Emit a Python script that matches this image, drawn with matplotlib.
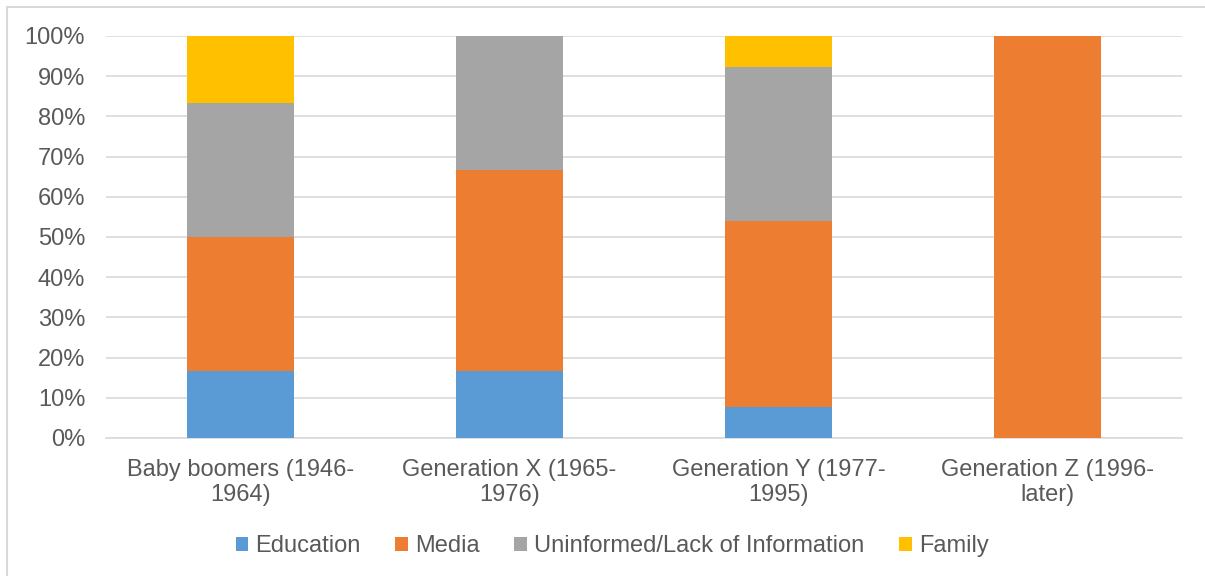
import matplotlib
matplotlib.use("Agg")
import matplotlib.pyplot as plt
from matplotlib.patches import Rectangle
from matplotlib.ticker import PercentFormatter

plt.rcParams['font.family'] = ['Liberation Sans', 'DejaVu Sans']

categories = ["Baby boomers (1946-\n1964)", "Generation X (1965-\n1976)",
              "Generation Y (1977-\n1995)", "Generation Z (1996-\nlater)"]
series_names = ["Education", "Media", "Uninformed/Lack of Information", "Family"]
education = [16.7, 16.7, 7.7, 0.0]
media = [33.3, 50.0, 46.2, 100.0]
uninformed = [33.3, 33.3, 38.5, 0.0]
family = [16.7, 0.0, 7.6, 0.0]
colors = ["#5B9BD5", "#ED7D31", "#A5A5A5", "#FFC000"]

fig = plt.figure(figsize=(12.05, 5.76), dpi=100)
ax = fig.add_axes([106/1205, 1-438/576, (1182-106)/1205, (438-36)/576])

x = range(len(categories))
bottom = [0.0]*len(categories)
for name, vals, c in zip(series_names, [education, media, uninformed, family], colors):
    ax.bar(x, vals, width=0.4, bottom=bottom, color=c, label=name, zorder=3)
    bottom = [b+v for b, v in zip(bottom, vals)]

ax.set_xlim(-0.5, len(categories)-0.5)
ax.set_ylim(0, 100)
ax.set_yticks(range(0, 101, 10))
ax.yaxis.set_major_formatter(PercentFormatter(decimals=0))
ax.set_xticks(list(x))
ax.set_xticklabels(categories, linespacing=1.2)
ax.grid(axis='y', color='#D9D9D9', linewidth=1.2, zorder=0)
for s in ['top', 'right', 'left']:
    ax.spines[s].set_visible(False)
ax.spines['bottom'].set_color('#D9D9D9')
ax.spines['bottom'].set_linewidth(1.2)
ax.tick_params(axis='both', length=0, labelsize=17, labelcolor='#595959')
ax.tick_params(axis='y', pad=15)
ax.tick_params(axis='x', pad=15)

leg = fig.legend(loc='center', bbox_to_anchor=(612/1205, 1-546/576), ncol=4, frameon=False,
                 fontsize=17, handlelength=0.55, handleheight=0.55, handletextpad=0.3,
                 columnspacing=1.45)
for t in leg.get_texts():
    t.set_color('#595959')

fig.patches.append(Rectangle((7/1205, -0.1), 1.2, 1-7/576+0.1, transform=fig.transFigure,
                             fill=False, edgecolor='#D9D9D9', linewidth=1.5))

fig.savefig("out.png", dpi=100)
